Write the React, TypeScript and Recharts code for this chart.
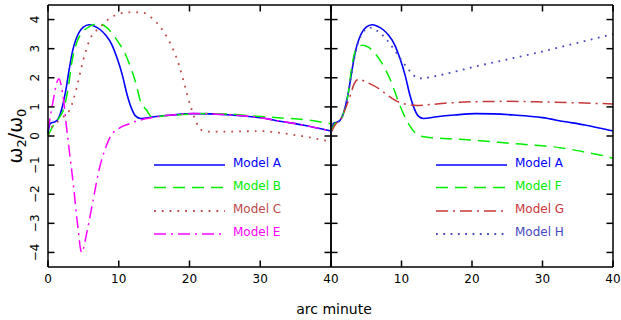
import { LineChart, Line, XAxis, YAxis } from 'recharts'

const FONT = '"DejaVu Sans", Verdana, sans-serif'

const xTicks = [0, 10, 20, 30, 40]
const yTicks = [-4, -3, -2, -1, 0, 1, 2, 3, 4]

// Model A appears identically in both panels
const modelAX = [0, 0.3, 0.6, 1.1, 1.5, 2, 2.5, 3, 3.5, 4, 4.5, 5, 5.8, 6.5, 7.4, 8.2, 9, 9.8, 10.5, 11.2, 11.8, 12.4, 13.1, 15, 17.5, 20.5, 23, 26, 30, 33, 36, 40]
const modelAY = [0.1, 0.42, 0.46, 0.5, 0.62, 0.98, 1.55, 2.3, 2.95, 3.35, 3.6, 3.74, 3.82, 3.78, 3.65, 3.45, 3.15, 2.65, 2.1, 1.4, 0.95, 0.68, 0.6, 0.66, 0.72, 0.77, 0.76, 0.72, 0.63, 0.5, 0.38, 0.17]

const modelBX = [0, 0.5, 1, 1.5, 2.2, 2.9, 3.35, 4.05, 5, 6, 7.2, 8.2, 9, 10, 10.6, 11.8, 12.5, 13, 13.9, 14.7, 16, 18, 20, 22.5, 25, 29.5, 33, 36.6, 40]
const modelBY = [0, 0.25, 0.45, 0.6, 0.91, 1.71, 2.51, 3.2, 3.6, 3.78, 3.86, 3.75, 3.55, 3.2, 2.97, 2.28, 1.75, 1.25, 0.9, 0.66, 0.68, 0.72, 0.75, 0.77, 0.76, 0.68, 0.62, 0.55, 0.42]

const modelCX = [0, 0.5, 1, 1.7, 3.1, 4.05, 5, 5.9, 7.3, 8.5, 9.7, 10.6, 11.6, 12.5, 13.5, 14.7, 15.8, 16.8, 17.7, 18.5, 19.1, 19.7, 20.3, 21, 21.5, 22.6, 25, 27.5, 30.4, 32, 34.2, 37, 40]
const modelCY = [0.05, 0.3, 0.4, 0.57, 0.91, 1.66, 2.63, 3.31, 3.72, 4.0, 4.17, 4.23, 4.25, 4.25, 4.23, 4.05, 3.77, 3.4, 2.97, 2.45, 1.94, 1.4, 0.91, 0.45, 0.23, 0.15, 0.15, 0.16, 0.17, 0.13, 0.06, -0.05, -0.2]

const modelEX = [0, 0.3, 0.8, 1.2, 1.55, 1.9, 2.2, 2.5, 2.9, 3.6, 4.2, 4.75, 5.5, 6.4, 7.35, 8, 8.76, 10.2, 11.5, 12.5, 14, 16, 18, 20.5, 23, 26, 30, 33, 36, 40]
const modelEY = [0.2, 0.63, 1.3, 1.8, 1.97, 1.7, 1.26, 0.55, -0.28, -1.71, -3.08, -4.0, -3.3, -2.17, -1.03, -0.5, -0.05, 0.29, 0.42, 0.51, 0.6, 0.68, 0.73, 0.77, 0.76, 0.72, 0.63, 0.5, 0.38, 0.17]

const modelFX = [0, 0.5, 1, 1.5, 2, 2.5, 2.9, 3.6, 4.5, 5.3, 6.2, 7.2, 8.4, 9.8, 11.2, 12.6, 14, 18.3, 22, 25.4, 29, 32.5, 36, 39.6, 40]
const modelFY = [0.12, 0.42, 0.48, 0.62, 0.95, 1.55, 2.3, 3.0, 3.12, 3.05, 2.85, 2.51, 1.94, 1.03, 0.34, 0.0, -0.05, -0.11, -0.18, -0.25, -0.32, -0.4, -0.55, -0.74, -0.77]

const modelGX = [0, 0.5, 1, 1.5, 2, 2.7, 3.3, 3.9, 5, 6.95, 8, 9.3, 10.5, 12.2, 14, 17, 20.7, 25, 30.1, 35, 40]
const modelGY = [0.12, 0.35, 0.5, 0.62, 0.91, 1.37, 1.8, 1.95, 1.85, 1.6, 1.4, 1.2, 1.1, 1.05, 1.08, 1.14, 1.18, 1.19, 1.17, 1.14, 1.1]

const modelHX = [0, 0.3, 0.6, 1.1, 1.5, 2, 2.5, 3, 3.5, 4, 4.5, 5.5, 6.5, 7.9, 9, 9.8, 11, 12.5, 13.5, 16, 20.7, 25, 30.1, 35, 40]
const modelHY = [0.12, 0.42, 0.46, 0.5, 0.62, 0.98, 1.55, 2.25, 2.9, 3.3, 3.55, 3.72, 3.62, 3.31, 2.95, 2.68, 2.28, 1.98, 2.0, 2.12, 2.4, 2.63, 2.91, 3.2, 3.5]

const zip = (xs: number[], ys: number[]) => xs.map((x, i) => ({ x, y: ys[i] }))

type Series = { name: string; color: string; dash?: string; width: number; data: { x: number; y: number }[] }

const leftSeries: Series[] = [
  { name: 'Model A', color: '#0000ff', width: 1.6, data: zip(modelAX, modelAY) },
  { name: 'Model B', color: '#00ee00', dash: '12 7', width: 1.5, data: zip(modelBX, modelBY) },
  { name: 'Model C', color: '#c04848', dash: '1.8 6', width: 1.8, data: zip(modelCX, modelCY) },
  { name: 'Model E', color: '#ff00ff', dash: '12 5 2 5', width: 1.5, data: zip(modelEX, modelEY) },
]

const rightSeries: Series[] = [
  { name: 'Model A', color: '#0000ff', width: 1.6, data: zip(modelAX, modelAY) },
  { name: 'Model F', color: '#00ee00', dash: '12 7', width: 1.5, data: zip(modelFX, modelFY) },
  { name: 'Model G', color: '#c83737', dash: '12 5 2 5', width: 1.5, data: zip(modelGX, modelGY) },
  { name: 'Model H', color: '#4848c0', dash: '1.8 5.5', width: 1.8, data: zip(modelHX, modelHY) },
]

const axisStroke = { stroke: '#000', strokeWidth: 1.5 }
const TICK = 6.5
const PLOT_TOP = 5
const PLOT_BOTTOM = 267

const fmt = (v: number) => (v < 0 ? `\u2212${Math.abs(v)}` : `${v}`)

// bottom-axis tick: label plus inward marks on the bottom and top frame edges
function XTick({ x, payload, hideZero }: any) {
  return (
    <g>
      <line x1={x} x2={x} y1={PLOT_BOTTOM} y2={PLOT_BOTTOM - TICK} stroke="#000" strokeWidth={1.5} />
      <line x1={x} x2={x} y1={PLOT_TOP} y2={PLOT_TOP + TICK} stroke="#000" strokeWidth={1.5} />
      {!(hideZero && payload.value === 0) && (
        <text x={x} y={283} textAnchor="middle" fontSize={12} fontFamily={FONT} fill="#000">
          {payload.value}
        </text>
      )}
    </g>
  )
}

// left-axis tick: optional rotated label plus inward marks on both side edges
function YTick({ y, payload, plotLeft, plotRight, showLabel }: any) {
  return (
    <g>
      <line x1={plotLeft} x2={plotLeft + TICK} y1={y} y2={y} stroke="#000" strokeWidth={1.5} />
      <line x1={plotRight} x2={plotRight - TICK} y1={y} y2={y} stroke="#000" strokeWidth={1.5} />
      {showLabel && (
        <text transform={`translate(38.5, ${y}) rotate(-90)`} textAnchor="middle" fontSize={12} fontFamily={FONT} fill="#000">
          {fmt(payload.value)}
        </text>
      )}
    </g>
  )
}

function Panel({ series, left, width, margin, yWidth, plotLeft, plotRight, showYLabels, hideZero }: any) {
  return (
    <div style={{ position: 'absolute', left, top: 0 }}>
      <LineChart width={width} height={300} margin={margin}>
        <XAxis xAxisId="b" dataKey="x" type="number" domain={[0, 40]} ticks={xTicks} height={33}
          axisLine={axisStroke} tickLine={false} tick={<XTick hideZero={hideZero} />} />
        <XAxis xAxisId="t" orientation="top" dataKey="x" type="number" domain={[0, 40]} ticks={xTicks} height={1}
          axisLine={axisStroke} tickLine={false} tick={false} />
        <YAxis yAxisId="l" type="number" domain={[-4.5, 4.5]} ticks={yTicks} width={yWidth}
          axisLine={axisStroke} tickLine={false}
          tick={<YTick plotLeft={plotLeft} plotRight={plotRight} showLabel={showYLabels} />} />
        <YAxis yAxisId="r" orientation="right" type="number" domain={[-4.5, 4.5]} ticks={yTicks} width={1}
          axisLine={axisStroke} tickLine={false} tick={false} />
        {series.map((s: Series) => (
          <Line key={s.name} xAxisId="b" yAxisId="l" data={s.data} dataKey="y" type="monotone"
            stroke={s.color} strokeWidth={s.width} strokeDasharray={s.dash} dot={false} activeDot={false}
            isAnimationActive={false} />
        ))}
      </LineChart>
    </div>
  )
}

const legendBaselines = [167, 189.5, 213, 236]

function PanelLegend({ series, x1, x2, tx }: { series: Series[]; x1: number; x2: number; tx: number }) {
  return (
    <g>
      {series.map((s, i) => (
        <g key={s.name}>
          <line x1={x1} x2={x2} y1={legendBaselines[i] - 2} y2={legendBaselines[i] - 2}
            stroke={s.color} strokeWidth={s.width} strokeDasharray={s.dash} />
          <text x={tx} y={legendBaselines[i]} fontSize={12} fontFamily={FONT} fill={s.color}>{s.name}</text>
        </g>
      ))}
    </g>
  )
}

export default function App() {
  return (
    <div style={{ position: 'absolute', left: 0, top: 0, width: 621, height: 320, background: '#fff', fontFamily: FONT }}>
      <Panel series={leftSeries} left={0} width={340} margin={{ top: 4, right: 8, bottom: 0, left: 0 }}
        yWidth={48} plotLeft={48} plotRight={331} showYLabels />
      <Panel series={rightSeries} left={326} width={295} margin={{ top: 4, right: 7, bottom: 0, left: 4 }}
        yWidth={1} plotLeft={5} plotRight={287} showYLabels={false} hideZero />
      <svg width={621} height={320} style={{ position: 'absolute', left: 0, top: 0, pointerEvents: 'none' }}>
        <PanelLegend series={leftSeries} x1={154} x2={225} tx={233} />
        <PanelLegend series={rightSeries} x1={436} x2={507} tx={515} />
      </svg>
      <div style={{ position: 'absolute', left: 17, top: 136, transform: 'translate(-50%, -50%) rotate(-90deg)',
        fontSize: 19, whiteSpace: 'nowrap', lineHeight: 1, color: '#000' }}>
        ω<sub style={{ fontSize: 13 }}>2</sub>/ω<sub style={{ fontSize: 13 }}>0</sub>
      </div>
      <div style={{ position: 'absolute', left: 334, top: 309, transform: 'translate(-50%, -50%)',
        fontSize: 14, whiteSpace: 'nowrap', lineHeight: 1, color: '#000' }}>
        arc minute
      </div>
    </div>
  )
}
